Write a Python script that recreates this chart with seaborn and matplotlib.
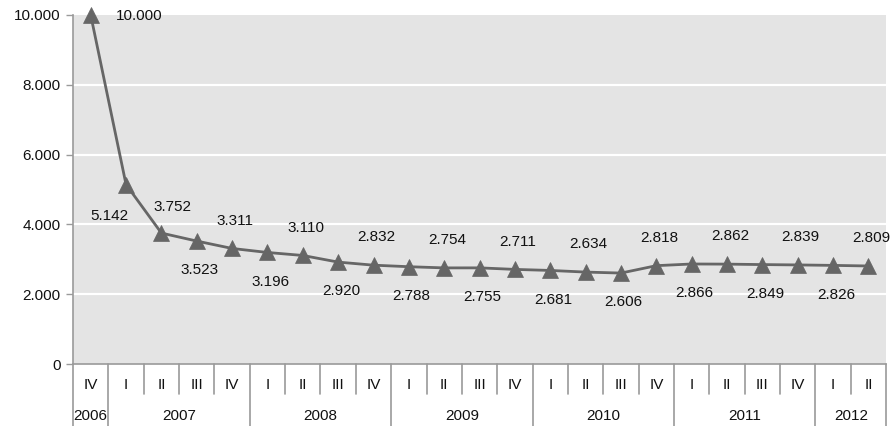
import matplotlib
matplotlib.use("Agg")
import matplotlib.pyplot as plt
import matplotlib.transforms as mtransforms
import numpy as np
import pandas as pd
import seaborn as sns

# Quarterly series, IV 2006 to II 2012
quarters = ["IV",
            "I", "II", "III", "IV",
            "I", "II", "III", "IV",
            "I", "II", "III", "IV",
            "I", "II", "III", "IV",
            "I", "II", "III", "IV",
            "I", "II"]
years = ["2006", "2007", "2008", "2009", "2010", "2011", "2012"]
quarters_per_year = [1, 4, 4, 4, 4, 4, 2]
values = [10000, 5142, 3752, 3523, 3311, 3196, 3110, 2920, 2832, 2788,
          2754, 2755, 2711, 2681, 2634, 2606, 2818, 2866, 2862, 2849,
          2839, 2826, 2809]
y_ticks = [0, 2000, 4000, 6000, 8000, 10000]

GREY = "#666666"
BG = "#e4e4e4"
AXIS = "#9a9a9a"
TEXT = "#111111"
FONT = ["Liberation Sans", "DejaVu Sans"]
FS = 11

sns.set_theme(style="white")
plt.rcParams["font.family"] = FONT

df = pd.DataFrame({"pos": np.arange(len(values)), "value": values})

fig = plt.figure(figsize=(8.96, 4.26), dpi=100)
ax = fig.add_axes([0.0815, 0.1455, 0.9075, 0.8193])
ax.set_facecolor(BG)

sns.lineplot(data=df, x="pos", y="value", ax=ax, color=GREY, linewidth=2,
             marker="^", markersize=12, markeredgecolor=GREY,
             markeredgewidth=0.5, clip_on=False, zorder=3)

ax.set_xlim(-0.5, len(values) - 0.5)
ax.set_ylim(0, 10000)
ax.set_yticks(y_ticks)
ax.set_yticklabels([f"{v:,}".replace(",", ".") for v in y_ticks],
                   fontsize=FS, color=TEXT)
for v in y_ticks[1:-1]:
    ax.axhline(v, color="white", linewidth=1.6, zorder=1)

ax.set_xticks(df["pos"])
ax.set_xticklabels(quarters, fontsize=FS, color=TEXT)
ax.tick_params(axis="x", length=0, pad=10)
ax.tick_params(axis="y", length=5, width=1, color=AXIS, pad=4, left=True)
ax.set_xlabel("")
ax.set_ylabel("")

for side in ("top", "right"):
    ax.spines[side].set_visible(False)
for side in ("left", "bottom"):
    ax.spines[side].set_color(AXIS)
    ax.spines[side].set_linewidth(1.2)

# Category separators below the axis: short for quarters, full for years
trans = mtransforms.blended_transform_factory(ax.transData, ax.transAxes)
year_bounds = np.concatenate([[0], np.cumsum(quarters_per_year)])
for k in range(len(values) + 1):
    bottom = -0.178 if k in year_bounds else -0.087
    ax.plot([k - 0.5, k - 0.5], [0, bottom], transform=trans, color=AXIS,
            linewidth=1.2, clip_on=False)

for y_label, start, n in zip(years, year_bounds[:-1], quarters_per_year):
    ax.text(start + (n - 1) / 2, -0.148, y_label, transform=trans,
            ha="center", va="center", fontsize=FS, color=TEXT)

# Value labels alternate above and below the markers
for i, v in enumerate(values):
    label = f"{v:,}".replace(",", ".")
    if i == 0:
        dx, dy = 35, -1
    elif i == 1:
        dx, dy = -12, -23
    elif i == 2:
        dx, dy = 8, 19
    else:
        dx, dy = 2, (20 if i % 2 == 0 else -21)
    ax.annotate(label, (i, v), xytext=(dx, dy), textcoords="offset points",
                ha="center", va="center", fontsize=FS, color=TEXT)

fig.savefig("out.png", dpi=100, facecolor="white")
